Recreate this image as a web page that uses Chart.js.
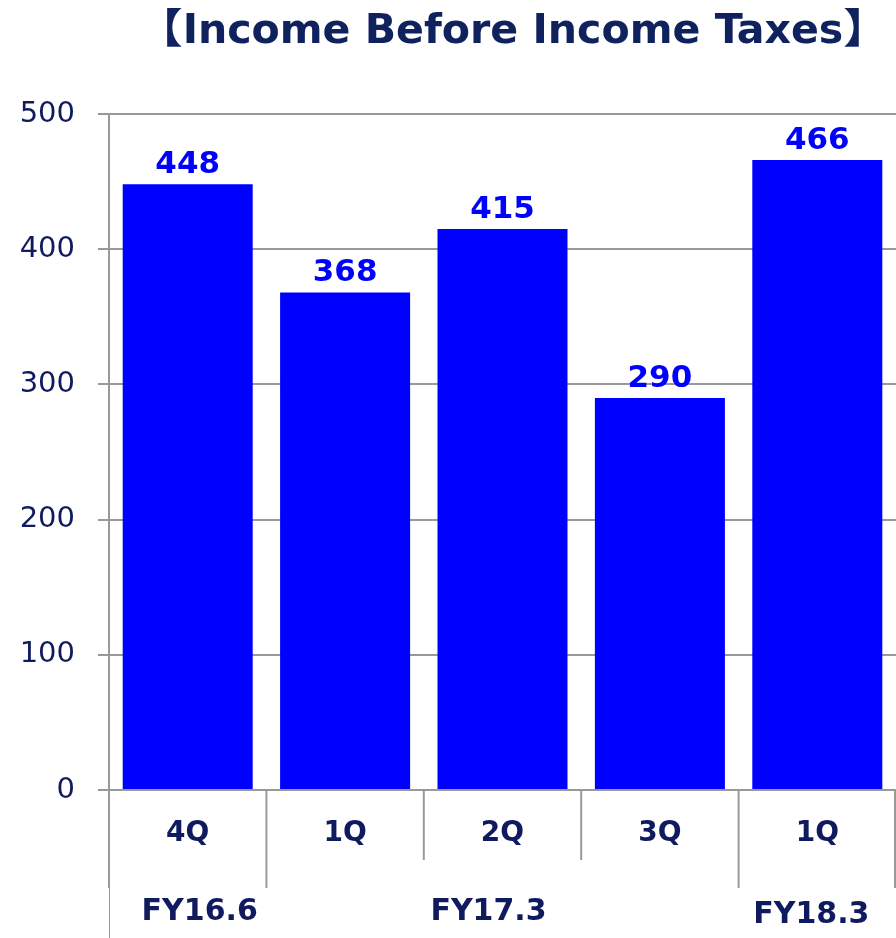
<!DOCTYPE html>
<html>
<head>
<meta charset="utf-8">
<script src="https://cdn.jsdelivr.net/npm/chart.js@4.4.1/dist/chart.umd.min.js"></script>
<style>
  html, body { margin: 0; padding: 0; background: #fff; }
  #wrap { width: 896px; height: 938px; }
</style>
</head>
<body>
<div id="wrap"><canvas id="grafico"></canvas></div>
<script>
// dados do grafico
const quarters = ['4Q', '1Q', '2Q', '3Q', '1Q'];
const incomeValues = [448, 368, 415, 290, 466];
const fiscalYears = ['FY16.6', 'FY17.3', 'FY18.3'];
const fiscalSpan = [1, 3, 1]; // quantos trimestres em cada ano fiscal
const yTicks = [0, 100, 200, 300, 400, 500];
const chartTitle = '【Income Before Income Taxes】';

const navy = '#101a5e';
const gray = '#999999';

// titulo, rotulos das barras e eixo x em dois niveis
const extraDraw = {
    id: 'extraDraw',
    afterDraw(chart) {
        const ctx = chart.ctx;
        const x = chart.scales.x;
        const area = chart.chartArea;
        ctx.save();

        // titulo (fonte condensada esticada na horizontal)
        ctx.fillStyle = '#0f225e';
        ctx.font = 'bold 41px "DejaVu Sans Condensed", "Noto Sans CJK JP", sans-serif';
        ctx.textAlign = 'center';
        ctx.textBaseline = 'middle';
        const w = ctx.measureText(chartTitle).width;
        const sx = 752 / w;
        ctx.save();
        ctx.translate(513, 32);
        ctx.scale(sx, 1);
        ctx.fillText(chartTitle, 0, 0);
        ctx.restore();

        // valores acima das barras
        const meta = chart.getDatasetMeta(0);
        ctx.fillStyle = '#0000ff';
        ctx.font = 'bold 31px "DejaVu Sans", sans-serif';
        ctx.textBaseline = 'alphabetic';
        meta.data.forEach((bar, i) => {
            ctx.fillText(incomeValues[i], bar.x, bar.y - 11);
        });

        // separadores dos trimestres
        const step = (area.right - area.left) / quarters.length;
        ctx.strokeStyle = gray;
        ctx.lineWidth = 2;
        let bounds = [0];
        fiscalSpan.reduce((acc, n) => { bounds.push(acc + n); return acc + n; }, 0);
        for (let i = 0; i <= quarters.length; i++) {
            let px = area.left + step * i;
            if (i === quarters.length) px -= 1;
            const long = bounds.includes(i);
            ctx.beginPath();
            ctx.moveTo(px, area.bottom);
            ctx.lineTo(px, long ? 888 : 860);
            ctx.stroke();
        }
        // linha fina na esquerda
        ctx.lineWidth = 1;
        ctx.beginPath();
        ctx.moveTo(area.left + 0.5, 888);
        ctx.lineTo(area.left + 0.5, 938);
        ctx.stroke();

        // rotulos dos trimestres
        ctx.fillStyle = navy;
        ctx.font = 'bold 28px "DejaVu Sans", sans-serif';
        ctx.textBaseline = 'middle';
        quarters.forEach((q, i) => {
            ctx.fillText(q, x.getPixelForValue(i), 834);
        });

        // rotulos dos anos fiscais
        ctx.font = 'bold 30px "DejaVu Sans", sans-serif';
        const fyOffset = [12, -14, -6];
        fiscalYears.forEach((fy, g) => {
            const start = bounds[g], end = bounds[g + 1];
            const cx = area.left + step * (start + end) / 2;
            ctx.fillText(fy, cx + fyOffset[g], g === 2 ? 915 : 912);
        });

        ctx.restore();
    }
};

document.addEventListener('DOMContentLoaded', () => {
    const ctx = document.getElementById('grafico').getContext('2d');
    new Chart(ctx, {
        type: 'bar',
        data: {
            labels: quarters,
            datasets: [{
                data: incomeValues,
                backgroundColor: '#0000ff',
                borderWidth: 0,
                categoryPercentage: 1,
                barPercentage: 0.826
            }]
        },
        options: {
            responsive: true,
            maintainAspectRatio: false,
            animation: false,
            devicePixelRatio: 1,
            layout: { padding: { top: 114, right: 0, bottom: 0, left: 0 } },
            plugins: {
                legend: { display: false },
                tooltip: { enabled: false },
                title: { display: false }
            },
            scales: {
                x: {
                    afterFit: scale => { scale.height = 148; },
                    grid: { display: false },
                    ticks: { display: false },
                    border: { display: true, color: gray, width: 2 }
                },
                y: {
                    min: 0,
                    max: 500,
                    afterFit: scale => { scale.width = 109; },
                    afterBuildTicks: scale => { scale.ticks = yTicks.map(v => ({ value: v })); },
                    grid: { color: gray, lineWidth: 2, tickLength: 11 },
                    border: { display: true, color: gray, width: 2 },
                    ticks: {
                        padding: 23,
                        color: navy,
                        font: { family: '"DejaVu Sans", sans-serif', size: 29 }
                    }
                }
            }
        },
        plugins: [extraDraw]
    });
});
</script>
</body>
</html>
